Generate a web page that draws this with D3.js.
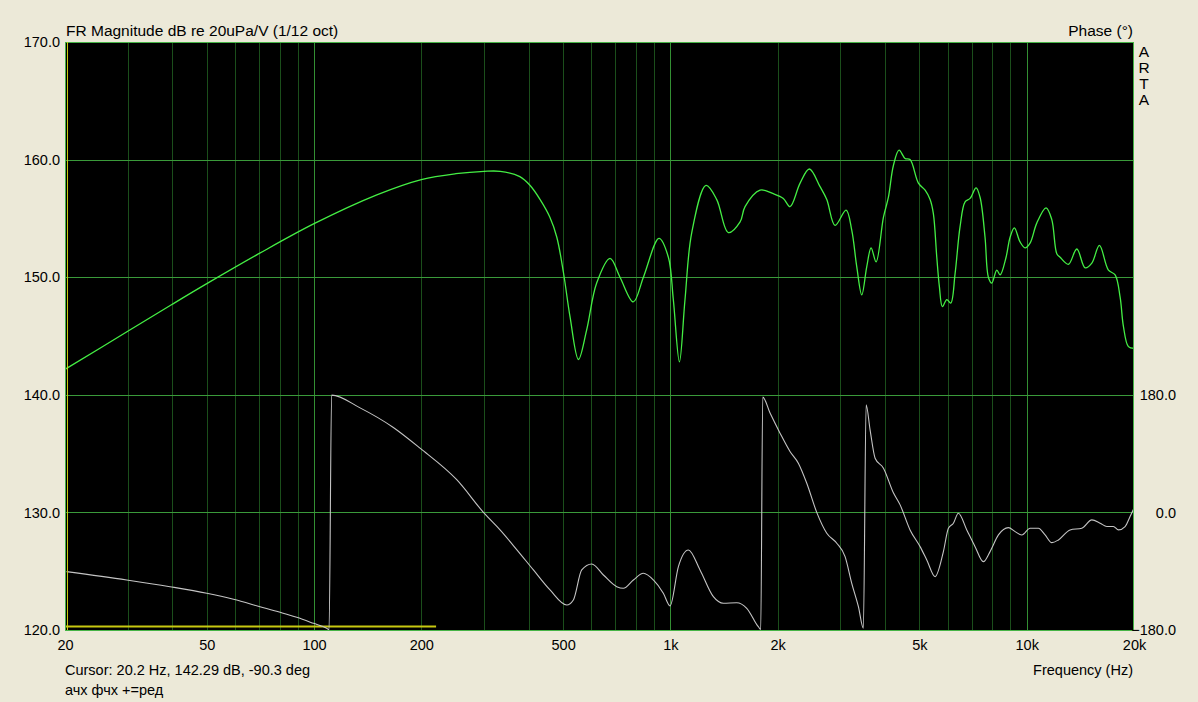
<!DOCTYPE html>
<html>
<head>
<meta charset="utf-8">
<script src="https://cdn.jsdelivr.net/npm/d3@7"></script>
<style>
  html, body { margin: 0; padding: 0; background: #ece9d8; }
  svg { display: block; }
  text { font-family: "Liberation Sans", Arial, sans-serif; font-size: 14.5px; fill: #000; }
  .big { font-size: 15.5px; }
</style>
</head>
<body>
<svg id="chart" width="1198" height="702"></svg>
<script>
// ---------------- data ----------------
const magFreq = [20.1,30,40,50,70,100,150,200,250,300,333,378,404,431,459,480,501,523,552,582,621,677,722,787,840,929,987,1019,1060,1099,1148,1259,1349,1454,1569,1620,1785,1945,2075,2166,2312,2455,2630,2747,2898,3112,3228,3334,3444,3557,3658,3778,3962,4091,4225,4382,4556,4705,4966,5186,5356,5470,5592,5687,5798,5966,6120,6294,6500,6714,6934,7208,7396,7638,7804,7978,8241,8420,8750,8980,9232,9578,9892,10218,10670,11332,11758,12144,12406,13090,13822,14586,15230,15996,16954,17704,18284,18682,19290,20000];
const magDb = [142.2,145.4,147.7,149.45,152.0,154.55,157.0,158.3,158.8,159.0,159.0,158.55,157.8,156.6,155.1,153.4,150.4,146.6,143.0,145.5,149.5,151.6,150.0,147.9,150.0,153.3,151.7,148.1,142.8,148.1,153.8,157.8,156.6,153.8,154.7,156.0,157.4,157.1,156.7,156.0,158.0,159.2,157.7,156.6,154.4,155.7,154.0,150.9,148.5,150.9,152.5,151.3,155.1,156.8,159.5,160.8,160.1,160.0,158.0,157.4,156.6,155.4,151.7,149.2,147.5,148.1,147.8,150.3,154.3,156.4,156.7,157.6,156.8,153.4,150.0,149.5,150.6,150.2,151.7,153.4,154.2,153.0,152.5,152.9,154.6,155.9,154.9,152.0,151.7,151.1,152.4,150.8,151.2,152.7,150.6,150.2,148.3,145.8,144.1,143.95];

const phaseFreq = [20.2,29.8,39.4,50,59.4,70.5,80.3,89.4,99.6,108.5,110.2,112,134.6,166.9,198.3,251.4,301.9,332.6,370.4,412.6,459.4,511.8,534.2,563.8,601.6,648.6,707,737.8,787.2,840,895.6,955.4,997.8,1053,1123,1211,1320,1408,1535,1638,1765,1793,1816,1904,2031,2166,2286,2414,2576,2747,2930,3092,3228,3370,3480,3542,3634,3754,3962,4225,4412,4705,5020,5242,5532,5836,6028,6226,6430,6788,7162,7556,7890,8328,8882,9276,9686,10218,10782,11260,11758,12274,13236,14278,15230,16070,16778,17508,18086,18882,19500,20000];
const phaseDeg = [-90.7,-103.4,-113.7,-123.8,-133,-144.3,-152.9,-160.6,-169.8,-177.4,-179.5,179.5,160,130,98.3,50,-2.8,-26.8,-56.9,-88.1,-118.7,-141.7,-134,-88.1,-79,-95.8,-113.7,-116.2,-103.4,-93.2,-103.4,-123.8,-143.2,-83,-57.5,-88.1,-129,-139.1,-138.2,-146.8,-175,-179,176.5,152,121.3,93.2,75.4,44.7,-0.3,-31.9,-47.2,-67.7,-108.5,-144.3,-177.4,164.7,126.4,83,67.7,30,11.5,-26.8,-52.4,-72.8,-98.3,-60,-24.2,-16.5,-1.2,-26.8,-52.4,-75.4,-60,-34.5,-23.3,-29.4,-34.5,-24.2,-24.2,-34.5,-46.3,-42.1,-26.8,-24.2,-11.5,-16.5,-21.6,-21.6,-26.8,-21.6,-6.2,6.6];

const refFreq = [20, 220];
const refDb = [120.3, 120.3];
const cursorFreq = 20.2;

const xTickValues = [20,50,100,200,500,1000,2000,5000,10000,20000];
const xTickLabels = ["20","50","100","200","500","1k","2k","5k","10k","20k"];
const xMinorGrid = [30,40,50,60,70,80,90,200,300,400,500,600,700,800,900,2000,3000,4000,5000,6000,7000,8000,9000];
const xMajorGrid = [100,1000,10000];
const dbTicks = [120,130,140,150,160,170];
const phaseTicks = [-180,0,180];

const titleLeft = "FR Magnitude dB re 20uPa/V (1/12 oct)";
const titleRight = "Phase (°)";
const brand = ["A","R","T","A"];
const xTitle = "Frequency (Hz)";
const cursorText = "Cursor: 20.2 Hz, 142.29 dB, -90.3 deg";
const footText = "ачх фчх +=ред";

// ---------------- layout ----------------
const L = 65, R = 1134, T = 42, B = 630;
const svg = d3.select("#chart");
const FONT = '"Liberation Sans", Arial, sans-serif';

const x = d3.scaleLog().domain([20, 20000]).range([L, R]);
const y = d3.scaleLinear().domain([120, 170]).range([B, T]);
const yP = d3.scaleLinear().domain([-180, 180]).range([B, y(140)]);

// plot background
svg.append("rect").attr("x", L).attr("y", T).attr("width", R - L).attr("height", B - T).attr("fill", "#000");

// grid
const grid = svg.append("g");
grid.selectAll(".vmin").data(xMinorGrid).join("line")
  .attr("x1", d => Math.round(x(d)) + 0.5).attr("x2", d => Math.round(x(d)) + 0.5)
  .attr("y1", T).attr("y2", B).attr("stroke", "#1b4e1b").attr("stroke-width", 1);
grid.selectAll(".vmaj").data(xMajorGrid).join("line")
  .attr("x1", d => Math.round(x(d)) + 0.5).attr("x2", d => Math.round(x(d)) + 0.5)
  .attr("y1", T).attr("y2", B).attr("stroke", "#338f33").attr("stroke-width", 1);
grid.selectAll(".h").data(dbTicks.slice(1, -1)).join("line")
  .attr("x1", L).attr("x2", R)
  .attr("y1", d => Math.round(y(d)) + 0.5).attr("y2", d => Math.round(y(d)) + 0.5)
  .attr("stroke", "#3a9a3a").attr("stroke-width", 1);

// clip
svg.append("clipPath").attr("id", "clip").append("rect")
  .attr("x", L).attr("y", T).attr("width", R - L).attr("height", B - T);
const plot = svg.append("g").attr("clip-path", "url(#clip)");

// reference (yellow) line
const refData = refFreq.map((f, i) => [f, refDb[i]]);
plot.append("path").datum(refData)
  .attr("d", d3.line().x(d => x(d[0])).y(d => y(d[1])))
  .attr("fill", "none").attr("stroke", "#c8c810").attr("stroke-width", 2);

// phase
const phData = phaseFreq.map((f, i) => [f, phaseDeg[i]]);
plot.append("path").datum(phData)
  .attr("d", d3.line().x(d => x(d[0])).y(d => yP(d[1])).curve(d3.curveMonotoneX))
  .attr("fill", "none").attr("stroke", "#c4c4c4").attr("stroke-width", 1.1);

// magnitude
const magData = magFreq.map((f, i) => [f, magDb[i]]);
plot.append("path").datum(magData)
  .attr("d", d3.line().x(d => x(d[0])).y(d => y(d[1])).curve(d3.curveCatmullRom.alpha(0.5)))
  .attr("fill", "none").attr("stroke", "#44ee44").attr("stroke-width", 1.3);

// border
svg.append("rect").attr("x", L + 0.5).attr("y", T + 0.5).attr("width", R - L - 1).attr("height", B - T)
  .attr("fill", "none").attr("stroke", "#46b446").attr("stroke-width", 1);

// cursor line
svg.append("line").attr("x1", Math.round(x(cursorFreq)) + 0.5).attr("x2", Math.round(x(cursorFreq)) + 0.5)
  .attr("y1", T).attr("y2", B).attr("stroke", "#c8c810").attr("stroke-width", 1);

// axes
const xAxis = d3.axisBottom(x).tickValues(xTickValues)
  .tickFormat((d, i) => xTickLabels[i]).tickSize(0).tickPadding(10);
const gx = svg.append("g").attr("transform", `translate(0,${B})`).call(xAxis);
gx.select(".domain").remove();
gx.selectAll("text").style("font-size", "14.5px").style("font-family", FONT).attr("fill", "#000");

const yAxis = d3.axisLeft(y).tickValues(dbTicks).tickFormat(d3.format(".1f")).tickSize(0).tickPadding(5);
const gy = svg.append("g").attr("transform", `translate(${L},0)`).call(yAxis);
gy.select(".domain").remove();
gy.selectAll("text").style("font-size", "14.5px").style("font-family", FONT).attr("fill", "#000");

const pAxis = d3.axisRight(yP).tickValues(phaseTicks).tickFormat(d3.format(".1f")).tickSize(0).tickPadding(5);
const gp = svg.append("g").attr("transform", `translate(${R},0)`).call(pAxis);
gp.select(".domain").remove();
gp.selectAll("text").style("font-size", "14.5px").style("font-family", FONT).attr("fill", "#000")
  .attr("text-anchor", "end").attr("x", 1176 - R);

// titles
svg.append("text").attr("class", "big").attr("x", L + 1).attr("y", 36).text(titleLeft);
svg.append("text").attr("class", "big").attr("x", R - 1).attr("y", 36).attr("text-anchor", "end").text(titleRight);
svg.selectAll(".brand").data(brand).join("text").attr("class", "big")
  .attr("x", 1144).attr("y", (d, i) => 57 + i * 16).attr("text-anchor", "middle").text(d => d);
svg.append("text").attr("x", R - 1).attr("y", 675).attr("text-anchor", "end").text(xTitle);
svg.append("text").attr("x", L).attr("y", 675).text(cursorText);
svg.append("text").attr("x", L).attr("y", 695).text(footText);
</script>
</body>
</html>
